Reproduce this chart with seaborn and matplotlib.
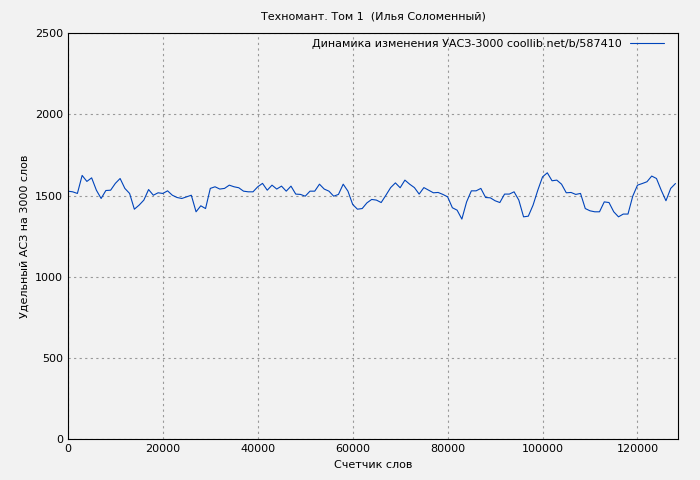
import matplotlib
matplotlib.use("Agg")
import matplotlib.pyplot as plt
import seaborn as sns
import numpy as np
import pandas as pd

values = [1527,1523,1513,1624,1587,1609,1533,1482,1531,1533,1575,1605,1544,1513,1416,1441,1472,1537,1502,1517,1513,1529,1502,1488,1482,1492,1502,1400,1437,1420,1544,1554,1540,1544,1564,1554,1548,1527,1523,1523,1554,1575,1533,1564,1540,1558,1527,1558,1509,1507,1496,1527,1527,1570,1540,1527,1496,1507,1570,1527,1445,1416,1420,1455,1476,1472,1457,
          1502,1549,1578,1548,1595,1570,1549,1509,1549,1533,1517,1519,1507,1492,1425,1410,1355,1461,1529,1529,1544,1488,1486,1468,1457,1509,1509,1523,1472,1369,1373,1441,1533,1615,1640,1591,1595,1570,1517,1519,1507,1513,1420,1406,1400,1400,1461,1457,1400,1369,1386,1386,1496,1564,1574,1585,1620,1605,1533,1468,1544,1574]
words = np.arange(len(values)) * 1000
df = pd.DataFrame({"x": words, "y": values})

sns.set_style("white")
plt.rcParams['font.family'] = ['DejaVu Sans']
plt.rcParams['text.color'] = 'black'
plt.rcParams['axes.labelcolor'] = 'black'
plt.rcParams['xtick.color'] = 'black'
plt.rcParams['ytick.color'] = 'black'
fig = plt.figure(figsize=(7, 4.8), dpi=100, facecolor="#f2f2f2")
ax = fig.add_axes([0.097, 0.085, 0.872, 0.846])
ax.set_facecolor("#f2f2f2")
sns.lineplot(data=df, x="x", y="y", ax=ax, color="#0044bb", linewidth=0.8,
             label="Динамика изменения УАСЗ-3000 coollib.net/b/587410")
ax.set_xlim(0, 128600)
ax.set_ylim(0, 2500)
ax.set_yticks([0, 500, 1000, 1500, 2000, 2500])
ax.set_xticks([0, 20000, 40000, 60000, 80000, 100000, 120000])
ax.grid(True, color="#999999", linestyle=(0, (2, 3)), linewidth=0.8)
ax.tick_params(direction="in", labelsize=8, length=4)
for s in ax.spines.values():
    s.set_color("black")
ax.set_xlabel("Счетчик слов", fontsize=8)
ax.set_ylabel("Удельный АСЗ на 3000 слов", fontsize=8)
ax.set_title("Техномант. Том 1  (Илья Соломенный)", fontsize=8, pad=10)
leg = ax.legend(loc="upper right", fontsize=8, frameon=False, markerfirst=False,
                handlelength=3, borderaxespad=0.1, bbox_to_anchor=(0.985, 1.0))
fig.savefig("out.png", dpi=100, facecolor="#f2f2f2")
